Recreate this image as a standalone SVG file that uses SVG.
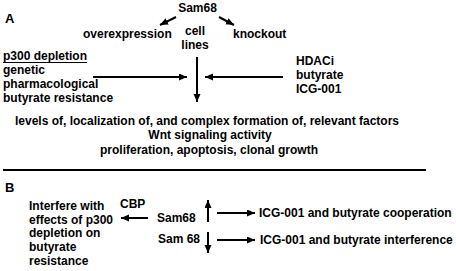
<svg xmlns="http://www.w3.org/2000/svg" width="456" height="271" viewBox="0 0 456 271">
<style>
text{font-family:"Liberation Sans",Arial,sans-serif;font-weight:bold;font-size:12px;fill:#000}
.c{text-anchor:middle}
.big{font-size:13px}
.ln{stroke:#000;stroke-width:2;fill:none}
</style>
<defs>
<marker id="ah" markerUnits="userSpaceOnUse" markerWidth="9" markerHeight="8" refX="8" refY="3.5" orient="auto">
<path d="M0,0 L8,3.5 L0,7 z" fill="#000"/>
</marker>
</defs>
<rect width="456" height="271" fill="#fff"/>
<g id="panelA">
<text class="big" x="5" y="23">A</text>
<g id="sam68"><text class="c" x="197.5" y="12">Sam68</text></g>
<g id="overexpression"><text x="83" y="38">overexpression</text></g>
<g id="knockout"><text x="233" y="38">knockout</text></g>
<g id="celllines"><text class="c" x="195" y="35">cell</text><text class="c" x="195" y="49">lines</text></g>
<g id="p300"><text x="3" y="60">p300 depletion</text>
<line x1="3" y1="62.5" x2="87" y2="62.5" stroke="#000" stroke-width="1.2"/>
<text x="3" y="74">genetic</text><text x="3" y="88">pharmacological</text><text x="3" y="102">butyrate resistance</text></g>
<g id="hdaci"><text x="296" y="65">HDACi</text><text x="296" y="79">butyrate</text><text x="296" y="93">ICG-001</text></g>
<g id="outcomes"><text class="c" x="207" y="125">levels of, localization of, and complex formation of, relevant factors</text>
<text class="c" x="210" y="139">Wnt signaling activity</text>
<text class="c" x="209" y="154">proliferation, apoptosis, clonal growth</text></g>
</g>
<line x1="3" y1="170" x2="426" y2="170" stroke="#000" stroke-width="2"/>
<g id="panelB">
<text class="big" x="5" y="192">B</text>
<g id="interfere"><text x="29" y="210">Interfere with</text><text x="29" y="224">effects of p300</text><text x="29" y="237">depletion on</text><text x="29" y="251">butyrate</text><text x="29" y="265">resistance</text></g>
<g id="cbp"><text x="120" y="208">CBP</text></g>
<g id="sam68up"><text x="157" y="222">Sam68</text></g>
<g id="sam68down"><text x="158" y="243">Sam 68</text></g>
<g id="coop"><text x="259" y="217">ICG-001 and butyrate cooperation</text></g>
<g id="interf"><text x="260" y="244">ICG-001 and butyrate interference</text></g>
</g>
<g id="connectors">
<line class="ln" x1="176" y1="17" x2="160" y2="25" marker-end="url(#ah)"/>
<line class="ln" x1="219" y1="17" x2="234" y2="25" marker-end="url(#ah)"/>
<line class="ln" x1="197" y1="57" x2="197" y2="102" marker-end="url(#ah)"/>
<line class="ln" x1="93" y1="77" x2="187" y2="77" marker-end="url(#ah)"/>
<line class="ln" x1="283" y1="77" x2="205" y2="77" marker-end="url(#ah)"/>
<line class="ln" x1="148" y1="218" x2="121" y2="218" marker-end="url(#ah)"/>
<line class="ln" x1="208" y1="222" x2="208" y2="200" marker-end="url(#ah)"/>
<line class="ln" x1="208" y1="232" x2="208" y2="253" marker-end="url(#ah)"/>
<line class="ln" x1="217" y1="213" x2="255" y2="213" marker-end="url(#ah)"/>
<line class="ln" x1="217" y1="240" x2="255" y2="240" marker-end="url(#ah)"/>
</g>
</svg>
